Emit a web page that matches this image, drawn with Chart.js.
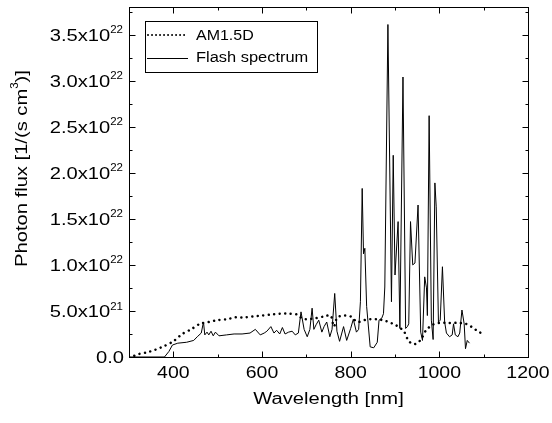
<!DOCTYPE html>
<html>
<head>
<meta charset="utf-8">
<script src="https://cdn.jsdelivr.net/npm/chart.js@4"></script>
<style>
  html, body { margin: 0; padding: 0; background: #fff; }
  canvas { display: block; }
</style>
</head>
<body>
<canvas id="c" width="552" height="423"></canvas>
<script>
// Wavelength in nm, photon flux in units of 1e22 photons / (s cm^3)
const am15dWavelength = [300, 310, 320, 340, 360, 380, 400, 420, 440, 460, 480, 500, 520, 540, 560, 580, 600, 620, 640, 660, 680, 690, 700, 720, 740, 755, 762, 770, 785, 800, 815, 830, 845, 860, 880, 900, 910, 920, 930, 940, 950, 960, 970, 985, 1000, 1020, 1040, 1060, 1075, 1090, 1100];
const am15dFlux = [0.00, 0.01, 0.03, 0.05, 0.08, 0.12, 0.17, 0.25, 0.30, 0.36, 0.38, 0.40, 0.41, 0.43, 0.43, 0.44, 0.45, 0.46, 0.47, 0.47, 0.46, 0.42, 0.41, 0.42, 0.44, 0.45, 0.33, 0.43, 0.45, 0.44, 0.38, 0.40, 0.41, 0.41, 0.39, 0.35, 0.32, 0.28, 0.18, 0.14, 0.15, 0.20, 0.29, 0.35, 0.37, 0.37, 0.37, 0.36, 0.32, 0.27, 0.25];

const flashWavelength = [300, 380, 390, 398, 410, 430, 446, 454, 463, 468, 471, 476, 480, 485, 490, 495, 503, 520, 537, 555, 573, 585, 596, 605, 611, 620, 627, 633, 640, 646, 652, 660, 668, 675, 682, 688, 695, 702, 708, 713, 717, 722, 728, 735, 740, 746, 753, 758, 764, 769, 775, 784, 791, 800, 806, 813, 818, 822, 826, 829, 832, 836, 844, 852, 860, 864, 870, 874, 877, 884, 892, 896, 900, 907, 911, 918, 924, 928, 931, 935, 940, 945, 952, 958, 962, 967, 971, 973, 977, 982, 986, 990, 993, 998, 1002, 1007, 1012, 1016, 1023, 1029, 1032, 1036, 1042, 1046, 1051, 1056, 1059, 1063, 1068];
const flashFlux = [0, 0, 0.06, 0.13, 0.15, 0.16, 0.18, 0.22, 0.26, 0.38, 0.24, 0.27, 0.24, 0.28, 0.23, 0.27, 0.23, 0.24, 0.25, 0.25, 0.26, 0.30, 0.24, 0.26, 0.28, 0.33, 0.26, 0.29, 0.25, 0.32, 0.25, 0.27, 0.28, 0.24, 0.26, 0.49, 0.30, 0.22, 0.30, 0.53, 0.30, 0.35, 0.40, 0.27, 0.33, 0.38, 0.22, 0.30, 0.69, 0.28, 0.17, 0.33, 0.18, 0.31, 0.41, 0.27, 0.30, 0.60, 1.83, 1.12, 1.18, 0.55, 0.11, 0.10, 0.16, 0.40, 0.42, 0.47, 0.76, 3.61, 0.60, 2.19, 0.89, 1.47, 0.31, 3.04, 0.31, 0.33, 0.36, 1.47, 1.00, 1.02, 1.65, 0.27, 0.18, 0.87, 0.75, 0.45, 2.62, 0.40, 0.19, 1.89, 1.63, 0.38, 0.40, 0.98, 0.38, 0.26, 0.22, 0.24, 0.36, 0.24, 0.22, 0.26, 0.51, 0.36, 0.09, 0.18, 0.15];

// Axis ticks and labels
const xMajorTicks = [400, 600, 800, 1000, 1200];
const xMinorTicks = [300, 500, 700, 900, 1100];
const xTickLabels = ['400', '600', '800', '1000', '1200'];
const yMajorTicks = [0, 0.5, 1.0, 1.5, 2.0, 2.5, 3.0, 3.5];
const yMinorTicks = [0.25, 0.75, 1.25, 1.75, 2.25, 2.75, 3.25, 3.75];
const yTickMantissa = ['0.0', '5.0x10', '1.0x10', '1.5x10', '2.0x10', '2.5x10', '3.0x10', '3.5x10'];
const yTickExponent = ['', '21', '22', '22', '22', '22', '22', '22'];

const seriesNames = ['AM1.5D', 'Flash spectrum'];

const FONT = '"Liberation Sans", Arial, sans-serif';
const WIDE = 1.26;   // horizontal stretch of the axis lettering

function toPoints(xs, ys) {
  return xs.map((x, i) => ({ x: x, y: ys[i] }));
}

function wideText(ctx, txt, x, y, size, sx, align) {
  ctx.save();
  ctx.font = size + 'px ' + FONT;
  ctx.translate(x, y);
  ctx.scale(sx, 1);
  ctx.textAlign = align;
  ctx.textBaseline = 'alphabetic';
  ctx.fillText(txt, 0, 0);
  ctx.restore();
}

function textWidth(ctx, txt, size, sx) {
  ctx.save();
  ctx.font = size + 'px ' + FONT;
  const w = ctx.measureText(txt).width * sx;
  ctx.restore();
  return w;
}

const framePlugin = {
  id: 'frame',
  afterDatasetsDraw(chart) {
    const ctx = chart.ctx;
    const a = chart.chartArea;
    const xs = chart.scales.x, ys = chart.scales.y;
    ctx.save();
    ctx.fillStyle = '#000';
    ctx.strokeStyle = '#000';
    ctx.lineWidth = 1;

    // plot frame
    ctx.strokeRect(Math.round(a.left) + 0.5, Math.round(a.top) + 0.5,
                   Math.round(a.right - a.left), Math.round(a.bottom - a.top));

    // inward ticks on all four sides
    const tick = (x1, y1, x2, y2) => { ctx.beginPath(); ctx.moveTo(x1, y1); ctx.lineTo(x2, y2); ctx.stroke(); };
    const L = Math.round(a.left) + 0.5, R = Math.round(a.right) + 0.5;
    const T = Math.round(a.top) + 0.5, B = Math.round(a.bottom) + 0.5;
    xMajorTicks.forEach(v => { const p = Math.round(xs.getPixelForValue(v)) + 0.5; tick(p, B, p, B - 6); tick(p, T, p, T + 6); });
    xMinorTicks.forEach(v => { const p = Math.round(xs.getPixelForValue(v)) + 0.5; tick(p, B, p, B - 3); tick(p, T, p, T + 3); });
    yMajorTicks.forEach(v => { const p = Math.round(ys.getPixelForValue(v)) + 0.5; tick(L, p, L + 6, p); tick(R, p, R - 6, p); });
    yMinorTicks.forEach(v => { const p = Math.round(ys.getPixelForValue(v)) + 0.5; tick(L, p, L + 3, p); tick(R, p, R - 3, p); });

    // x tick labels
    xMajorTicks.forEach((v, i) => {
      wideText(ctx, xTickLabels[i], xs.getPixelForValue(v), a.bottom + 20.5, 16.5, 1.18, 'center');
    });

    // y tick labels with raised exponents
    yMajorTicks.forEach((v, i) => {
      const p = ys.getPixelForValue(v);
      const exp = yTickExponent[i];
      if (exp) {
        const right = a.left - 6;
        const ew = textWidth(ctx, exp, 11.5, 1);
        wideText(ctx, exp, right, p - 1.4, 11.5, 1, 'right');
        wideText(ctx, yTickMantissa[i], right - ew, p + 6.3, 16, WIDE, 'right');
      } else {
        wideText(ctx, yTickMantissa[i], a.left - 5, p + 6.3, 16, WIDE, 'right');
      }
    });

    // x axis title
    wideText(ctx, 'Wavelength [nm]', (a.left + a.right) / 2, 403.5, 16, WIDE, 'center');

    // y axis title, rotated, with superscript
    const t1 = 'Photon flux [1/(s cm', t2 = '3', t3 = ')]';
    const w1 = textWidth(ctx, t1, 16, WIDE), w2 = textWidth(ctx, t2, 11.5, 1), w3 = textWidth(ctx, t3, 16, WIDE);
    const total = w1 + w2 + w3;
    ctx.save();
    ctx.translate(26.7, 168.5);
    ctx.rotate(-Math.PI / 2);
    let s = -total / 2;
    wideText(ctx, t1, s, 0, 16, WIDE, 'left'); s += w1;
    wideText(ctx, t2, s, -8.5, 11.5, 1, 'left'); s += w2;
    wideText(ctx, t3, s, 0, 16, WIDE, 'left');
    ctx.restore();

    // legend
    const lx = 145.5, ly = 21.5, lw = 172, lh = 51;
    ctx.fillStyle = '#fff';
    ctx.fillRect(lx, ly, lw, lh);
    ctx.strokeRect(lx, ly, lw, lh);
    ctx.fillStyle = '#000';
    ctx.save();
    ctx.lineWidth = 2;
    ctx.lineCap = 'round';
    ctx.setLineDash([0.01, 4]);
    tick(148, 35, 188, 35);
    ctx.restore();
    ctx.save();
    ctx.lineWidth = 1;
    tick(147, 58.5, 188, 58.5);
    ctx.restore();
    wideText(ctx, seriesNames[0], 196, 39.5, 15.5, 1.03, 'left');
    wideText(ctx, seriesNames[1], 196, 61.5, 15.5, 1.06, 'left');

    ctx.restore();
  }
};

new Chart(document.getElementById('c'), {
  type: 'scatter',
  data: {
    datasets: [
      {
        label: seriesNames[0],
        data: toPoints(am15dWavelength, am15dFlux),
        showLine: true,
        borderColor: '#000',
        borderWidth: 2.5,
        borderDash: [0.01, 5.5],
        borderCapStyle: 'round',
        pointRadius: 0,
        tension: 0.3,
        fill: false
      },
      {
        label: seriesNames[1],
        data: toPoints(flashWavelength, flashFlux),
        showLine: true,
        borderColor: '#000',
        borderWidth: 1,
        pointRadius: 0,
        tension: 0,
        fill: false
      }
    ]
  },
  options: {
    responsive: false,
    animation: false,
    devicePixelRatio: 1,
    layout: { padding: { left: 129, top: 7, right: 24, bottom: 66 } },
    plugins: { legend: { display: false }, tooltip: { enabled: false } },
    scales: {
      x: { type: 'linear', min: 300, max: 1200, display: false },
      y: { type: 'linear', min: 0, max: 3.8, display: false }
    }
  },
  plugins: [framePlugin]
});
</script>
</body>
</html>
